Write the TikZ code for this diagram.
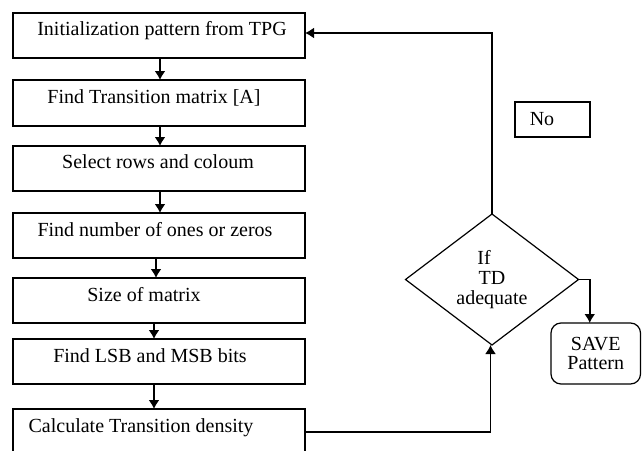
\documentclass[tikz,border=0pt]{standalone}
\usepackage{fontspec}
\setmainfont{Liberation Serif}
\usetikzlibrary{shapes.geometric,arrows.meta}
\begin{document}
\begin{tikzpicture}[x=1pt,y=-1pt,
  every node/.style={font=\fontsize{20}{20}\selectfont},
  box/.style={draw, line width=1.2pt, minimum width=292pt, inner sep=0pt, outer sep=0pt},
  lbl/.style={anchor=base, inner sep=0pt},
  arr/.style={line width=1.6pt, -{Latex[length=9pt,width=11pt]}},
  conn/.style={line width=1.1pt}]
\clip (0,0) rectangle (642,450);
\fill[white] (0,0) rectangle (642,450);
% process boxes
\node[box, minimum height=45pt] (b1) at (159,35.5) {};
\node[box, minimum height=46pt] (b2) at (159,103) {};
\node[box, minimum height=45pt] (b3) at (159,168.5) {};
\node[box, minimum height=45pt] (b4) at (159,235.5) {};
\node[box, minimum height=45pt] (b5) at (159,300.5) {};
\node[box, minimum height=45pt] (b6) at (159,361.5) {};
\node[box, minimum height=46pt] (b7) at (159,432) {};
% labels
\node[lbl] (t1) at (162,35) {Initialization pattern from TPG};
\node[lbl] (t2) at (154,103) {Find Transition matrix [A]};
\node[lbl] (t3) at (158,168) {Select rows and coloum};
\node[lbl] (t4) at (155,236) {Find number of ones or zeros};
\node[lbl] (t5) at (144,301) {Size of matrix};
\node[lbl] (t6) at (150,362) {Find LSB and MSB bits};
\node[lbl] (t7) at (141,432) {Calculate Transition density};
% decision
\node[draw, line width=1.2pt, diamond, minimum width=173pt, minimum height=131pt,
      inner sep=0pt, outer sep=0pt, align=center,
      font=\fontsize{20}{20}\selectfont] (dia) at (492,279.5)
      {If\hspace*{16pt}\\TD\hspace*{16pt}\\adequate};
% save
\node[draw, line width=1.2pt, rounded corners=10pt, minimum width=89.5pt,
      minimum height=61pt, inner sep=0pt, outer sep=0pt, align=center,
      font=\fontsize{20}{19}\selectfont] (save) at (595.75,353.5) {SAVE\\Pattern};
% No box
\node[draw, line width=1.2pt, minimum width=75pt, minimum height=35pt,
      inner sep=0pt, outer sep=0pt] (no) at (552.5,119.5) {};
\node[lbl] (tno) at (542,125) {No};
% connectors
\draw[arr] ([xshift=1pt]b1.south) -- ([xshift=1pt]b2.north);
\draw[arr] ([xshift=1pt]b2.south) -- ([xshift=1pt]b3.north);
\draw[arr] ([xshift=1pt]b3.south) -- ([xshift=1pt]b4.north);
\draw[arr] ([xshift=-3pt]b4.south) -- ([xshift=-3pt]b5.north);
\draw[arr] ([xshift=-5pt]b5.south) -- ([xshift=-5pt]b6.north);
\draw[arr] ([xshift=-5pt]b6.south) -- ([xshift=-5pt]b7.north);
\draw[arr] (dia.north) |- ([yshift=2.5pt]b1.east);
\draw[arr] (dia.east) -| ([xshift=-6pt]save.north);
\draw[arr] (b7.east) -| ([xshift=-1.5pt]dia.south);
\end{tikzpicture}
\end{document}
